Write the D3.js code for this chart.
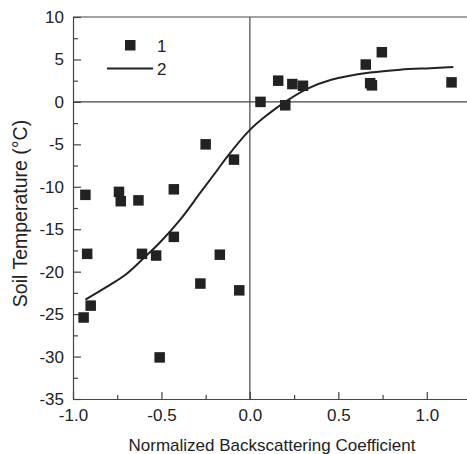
<!DOCTYPE html>
<html>
<head>
<meta charset="utf-8">
<script src="https://cdn.jsdelivr.net/npm/d3@7"></script>
<style>
  body { margin: 0; background: #fff; }
  svg { display: block; font-family: "Liberation Sans", Arial, sans-serif; }
</style>
</head>
<body>
<div id="chart"></div>
<script>
// measured points (series 1)
const pointX = [-0.94, -0.93, -0.92, -0.90, -0.74, -0.73, -0.63, -0.61, -0.53, -0.51, -0.43, -0.43,
  -0.28, -0.25, -0.17, -0.09, -0.06, 0.06, 0.16, 0.20, 0.24, 0.30, 0.655, 0.68, 0.69, 0.746, 1.14];
const pointY = [-25.4, -10.95, -17.9, -24.0, -10.6, -11.7, -11.6, -17.9, -18.1, -30.1, -10.3, -15.9,
  -21.4, -5.0, -18.0, -6.8, -22.2, 0.0, 2.5, -0.4, 2.1, 1.9, 4.4, 2.2, 1.95, 5.85, 2.3];

// fitted curve (series 2)
const curveX = [-0.93, -0.81, -0.70, -0.60, -0.51, -0.395, -0.28, -0.19, -0.13, 0.0, 0.10, 0.20, 0.32, 0.46, 0.68, 0.85, 1.02, 1.15];
const curveY = [-23.3, -21.8, -20.3, -18.4, -16.6, -13.9, -10.7, -8.2, -6.5, -3.3, -1.5, 0.0, 1.5, 2.6, 3.45, 3.8, 3.97, 4.1];

const xTicks = [-1.0, -0.5, 0.0, 0.5, 1.0];
const xTickLabels = ["-1.0", "-0.5", "0.0", "0.5", "1.0"];
const xMinor = [-0.75, -0.25, 0.25, 0.75];
const yTicks = [10, 5, 0, -5, -10, -15, -20, -25, -30, -35];
const yTickLabels = ["10", "5", "0", "-5", "-10", "-15", "-20", "-25", "-30", "-35"];
const yMinor = [7.5, 2.5, -2.5, -7.5, -12.5, -17.5, -22.5, -27.5, -32.5];
const legendLabels = ["1", "2"];

const width = 467;
const height = 454;
const axisColor = "#444";
const ink = "#222";

const x = d3.scaleLinear().domain([-1, 1.25]).range([73, 471]);
const y = d3.scaleLinear().domain([-35, 10]).range([399, 17]);

const svg = d3.select("#chart").append("svg")
  .attr("width", width)
  .attr("height", height);

// frame top + zero lines
svg.append("line")
  .attr("x1", x(-1)).attr("x2", x(1.25))
  .attr("y1", y(10)).attr("y2", y(10))
  .style("stroke", axisColor).style("stroke-width", 1.2);

svg.append("line")
  .attr("x1", x(-1)).attr("x2", x(1.25))
  .attr("y1", y(0)).attr("y2", y(0))
  .style("stroke", axisColor).style("stroke-width", 1.2);

svg.append("line")
  .attr("x1", x(0)).attr("x2", x(0))
  .attr("y1", y(10)).attr("y2", y(-35))
  .style("stroke", axisColor).style("stroke-width", 1.2);

// axes, ticks pointing in
const styleAxis = (g) => {
  g.selectAll("path, line").style("stroke", axisColor).style("stroke-width", 1.2);
  g.selectAll("text").style("fill", ink).style("font-size", "17px");
};

svg.append("g")
  .attr("transform", `translate(0,${y(-35)})`)
  .call(d3.axisBottom(x).tickValues(xMinor).tickFormat("").tickSizeInner(-4).tickSizeOuter(0))
  .call(styleAxis);

svg.append("g")
  .attr("transform", `translate(0,${y(-35)})`)
  .call(d3.axisBottom(x).tickValues(xTicks).tickFormat((d, i) => xTickLabels[i])
    .tickSizeInner(-7).tickSizeOuter(0).tickPadding(10))
  .call(styleAxis)
  .call((g) => g.select(".domain").remove());

svg.append("g")
  .attr("transform", `translate(${x(-1)},0)`)
  .call(d3.axisLeft(y).tickValues(yMinor).tickFormat("").tickSizeInner(-5).tickSizeOuter(0))
  .call(styleAxis);

svg.append("g")
  .attr("transform", `translate(${x(-1)},0)`)
  .call(d3.axisLeft(y).tickValues(yTicks).tickFormat((d, i) => yTickLabels[i])
    .tickSizeInner(-8).tickSizeOuter(0).tickPadding(9))
  .call(styleAxis)
  .call((g) => g.select(".domain").remove());

// fitted curve
const line = d3.line()
  .x((d) => x(d[0]))
  .y((d) => y(d[1]))
  .curve(d3.curveCatmullRom);

svg.append("path")
  .datum(curveX.map((v, i) => [v, curveY[i]]))
  .attr("d", line)
  .style("fill", "none")
  .style("stroke", ink)
  .style("stroke-width", 2);

// points
const sq = 10.5;
svg.append("g").selectAll("rect").data(pointX.map((v, i) => [v, pointY[i]])).enter().append("rect")
  .attr("x", (d) => x(d[0]) - sq / 2)
  .attr("y", (d) => y(d[1]) - sq / 2)
  .attr("width", sq)
  .attr("height", sq)
  .style("fill", ink);

// legend
const legend = svg.append("g").style("font-size", "17px").style("fill", ink);
legend.append("rect")
  .attr("x", 125).attr("y", 40).attr("width", sq).attr("height", sq)
  .style("fill", ink);
legend.append("text")
  .attr("x", 157).attr("y", 52)
  .text(legendLabels[0]);
legend.append("line")
  .attr("x1", 107).attr("x2", 153).attr("y1", 68.5).attr("y2", 68.5)
  .style("stroke", ink).style("stroke-width", 2);
legend.append("text")
  .attr("x", 157).attr("y", 75)
  .text(legendLabels[1]);

// axis titles
svg.append("text")
  .attr("x", 272).attr("y", 451)
  .attr("text-anchor", "middle")
  .style("font-size", "17px")
  .style("fill", ink)
  .text("Normalized Backscattering Coefficient");

svg.append("text")
  .attr("transform", "translate(27,213.5) rotate(-90)")
  .attr("text-anchor", "middle")
  .style("font-size", "19.5px")
  .style("fill", ink)
  .text("Soil Temperature (°C)");
</script>
</body>
</html>
